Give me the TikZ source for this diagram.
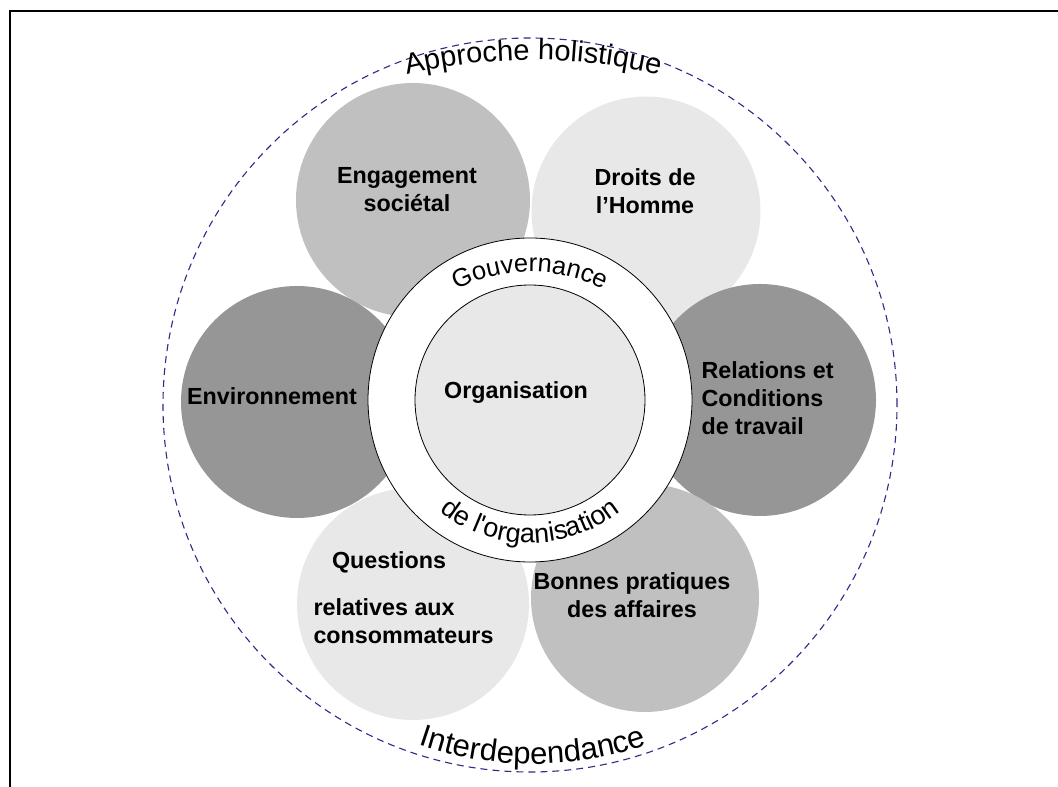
\documentclass[tikz,border=0pt]{standalone}
\usepackage{fontspec}
\setmainfont{Liberation Sans}
\usetikzlibrary{decorations.text}
\definecolor{petaldark}{HTML}{969696}
\definecolor{petalmid}{HTML}{C0C0C0}
\definecolor{petallight}{HTML}{E8E8E8}
\definecolor{dashblue}{HTML}{2E2A88}
\begin{document}
\begin{tikzpicture}[x=1pt, y=1pt,
    petal/.style = {circle, inner sep=0pt, minimum size=232pt},
    lbl/.style = {font=\fontsize{23.3}{28}\selectfont\bfseries, align=center},
    arctext/.style = {decorate, decoration={text along path, text align=center, text={#1}}}]
    \useasboundingbox (0,0) rectangle (1058,787);
    \draw[line width=2pt] (10,0) -- (10,776) -- (1058,776);

    \node[circle, minimum size=734pt, draw=dashblue, dash pattern=on 7pt off 5pt, line width=1.1pt] (holi) at (530,382) {};

    \node[petal, fill=petalmid, minimum size=234pt] (eng) at (413,587) {};
    \node[petal, fill=petallight, minimum size=229pt] (droits) at (646,576) {};
    \node[petal, fill=petaldark] (env) at (297,385) {};
    \node[petal, fill=petaldark] (rel) at (760,387) {};
    \node[petal, fill=petallight] (quest) at (413,183) {};
    \node[petal, fill=petalmid, minimum size=228pt] (bonnes) at (645,189) {};

    \node[circle, minimum size=324pt, draw, fill=white, line width=0.8pt] (gouv) at (530,387) {};
    \node[circle, minimum size=230pt, draw, fill=petallight, line width=0.8pt] (org) at (530,387) {};

    \node[lbl] (englbl) at (407,597) {Engagement\\sociétal};
    \node[lbl] (droitslbl) at (645,596) {Droits de\\l’Homme};
    \node[lbl] (envlbl) at (272,391) {Environnement};
    \node[lbl] (orglbl) at (516,394) {Organisation};
    \node[lbl, align=left, anchor=west] (rellbl) at (698,389) {Relations et\\Conditions\\de travail};
    \node[lbl] (bonneslbl) at (632,192) {Bonnes pratiques\\des affaires};
    \node[lbl] (questlbl) at (389,225) {Questions};
    \node[lbl, align=left, anchor=west] (relatlbl) at (310,166) {relatives aux\\consommateurs};

    \coordinate (topc) at (533,189);
    \coordinate (gouvc) at (530,350);
    \coordinate (orgc) at (530,389);
    \coordinate (botc) at (533,375);
    \path[arctext={|\fontsize{29}{34}\selectfont|Approche holistique}]
        ([shift={(112:538)}]topc) arc[start angle=112, end angle=68, radius=538];
    \path[arctext={|\fontsize{25.5}{30}\selectfont|Gouvernance}]
        ([shift={(145:165)}]gouvc) arc[start angle=145, end angle=35, radius=165];
    \path[arctext={|\fontsize{27}{32}\selectfont|de l{\textquotesingle}organisation}]
        ([shift={(195:145)}]orgc) arc[start angle=195, end angle=345, radius=145];
    \path[arctext={|\fontsize{31}{36}\selectfont|Interdependance}]
        ([shift={(245:352)}]botc) arc[start angle=245, end angle=295, radius=352];
\end{tikzpicture}
\end{document}
